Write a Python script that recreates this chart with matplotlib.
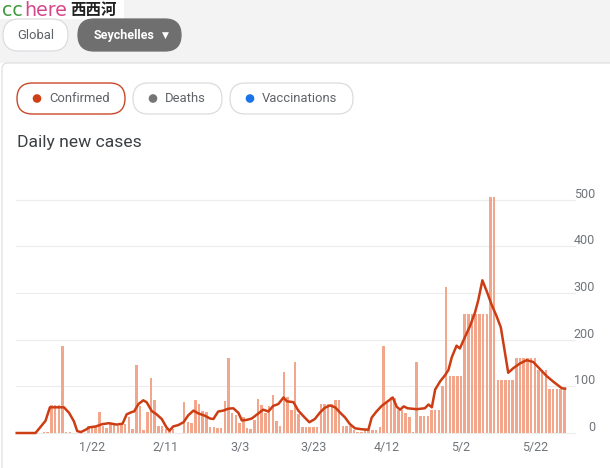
import matplotlib
matplotlib.use('Agg')
import matplotlib.pyplot as plt
from matplotlib.patches import FancyBboxPatch, Rectangle, Circle
import matplotlib.transforms as mtransforms
import numpy as np

plt.rcParams['font.family'] = ['Roboto', 'DejaVu Sans']

# ---------------- data (day 0 = Jan 1) ----------------
daily_cases = [
    0, 0, 0, 0, 0, 0, 0,
    1, 2, 2,
    59, 59, 59, 187,
    3, 3, 1, 0, 1, 0,
    14, 14, 14, 46, 14, 11,
    21, 18, 14, 18, 19, 35, 8, 146,
    57, 7, 46, 118, 71, 16, 16, 8, 4, 8, 0, 0,
    67, 23, 21, 71, 62, 48, 46, 12, 12, 11, 11, 69, 160,
    43, 39, 21, 35, 11, 9, 28, 73, 60, 43, 57, 82, 26, 14, 130, 78, 49, 152, 40,
    12, 12, 12, 12, 12, 62, 62, 62, 62, 70, 70, 14, 14, 14, 7, 3, 3, 6, 6, 6, 6, 12,
    187, 64, 78, 76, 50, 50, 42, 34, 3, 153, 36, 37, 37, 50, 50, 50, 100,
    313, 122, 122, 122, 122,
    255, 255, 255, 255, 255, 255, 255,
    505, 505,
    114, 114, 114, 114, 114,
    160, 160, 160, 160, 160, 160,
    134, 134, 134,
    94, 94, 94, 94, 95,
]

# 7-day average line as (day, value)
avg_days = [0.6, 5.7, 8.4, 9.6, 13.4, 14.8, 16.1, 17, 18, 19.3, 20.2, 22, 23.8, 25.6,
            27.7, 29.3, 30.4, 31.8, 32.4, 33.6, 34.9, 35.8, 37.2, 38.5, 39.9, 41.2,
            42, 43, 44.4, 45.8, 47.1, 48.5, 49.8, 51.6, 53, 53.9, 55.2, 56.6, 57.9,
            59.3, 60.7, 61.6, 62.9, 64.3, 66.1, 67.4, 68.8, 70.1, 71.5, 72.9, 73.8,
            75.6, 76.9, 78.3, 79.9, 81.4, 82.8, 84.1, 85.5, 86.9, 88.2, 89.6, 90.9,
            92.3, 94.1, 95.9, 96.8, 98.1, 99.5, 101, 102.5, 103.6, 104.5, 105.5,
            106.5, 109, 111.2, 112.2, 113.1, 114, 115.3, 116.7, 117.6, 118.5, 119.8,
            120.7, 122.1, 123.4, 124.8, 125.7, 126.8, 128, 129.3, 130.7, 131.8,
            133.8, 135.2, 137, 138.8, 140.6, 142.4, 144.2, 146, 148.3, 149.2]
avg_vals = [0, 0, 26, 55, 55, 43, 25, 4, 2, 7, 12, 14, 19, 21,
            18, 20, 40, 45, 46, 62, 70, 66, 47, 40, 30, 12,
            5, 14, 17, 23, 38, 48, 42, 37, 31, 30, 46, 48, 52,
            53, 43, 27, 28, 31, 42, 50, 46, 58, 62, 76, 68,
            66, 48, 36, 23, 30, 44, 54, 59, 55, 44, 33, 19,
            10, 8, 7, 33, 46, 58, 67, 76, 56, 50, 57,
            53, 51, 53, 61, 55, 93, 110, 124, 135, 162, 187,
            181, 206, 228, 258, 285, 327, 303, 275, 249, 226,
            129, 139, 149, 156, 152, 137, 122, 110, 96, 95]

xtick_days = [21, 41, 61, 81, 101, 121, 141]
xtick_labels = ['1/22', '2/11', '3/3', '3/23', '4/12', '5/2', '5/22']
ytick_vals = [0, 100, 200, 300, 400, 500]

# ---------------- figure ----------------
W, H = 610, 468
fig = plt.figure(figsize=(W / 100, H / 100), dpi=100)
fig.patch.set_facecolor('white')

ui = fig.add_axes([0, 0, 1, 1])
ui.set_xlim(0, W)
ui.set_ylim(H, 0)
ui.axis('off')

PT = 0.72  # px -> pt

# top gray strip
ui.add_patch(Rectangle((0, 0), W, 63, facecolor='#f3f3f3', edgecolor='none', zorder=0))
# card
ui.add_patch(FancyBboxPatch((2, 63), W + 20, H, boxstyle='round,pad=0,rounding_size=6',
                            facecolor='white', edgecolor='#dcdcdc', lw=0.8, zorder=1))
# logo
ui.add_patch(Rectangle((0, 0), 124, 19, facecolor='white', edgecolor='none', zorder=2))
ui.text(2, 10, 'cc', color='#3f9a3c', fontsize=19 * PT, va='center', ha='left',
        family=['DejaVu Sans'], zorder=3)
ui.text(24, 10, 'here', color='#d6478c', fontsize=19 * PT, va='center', ha='left',
        family=['DejaVu Sans'], zorder=3)
ui.text(70, 10, '西西河', color='#222222', fontsize=15.5 * PT, va='center', ha='left',
        family=['Noto Sans CJK SC', 'DejaVu Sans'], fontweight='bold', zorder=3)


def pill(x0, x1, yc, h, fc, ec, lw=0.9):
    r = h / 2
    p = FancyBboxPatch((x0, yc - r), x1 - x0, h,
                       boxstyle='round,pad=0,rounding_size=%f' % r,
                       facecolor=fc, edgecolor=ec, lw=lw, zorder=2)
    ui.add_patch(p)


# region pills
pill(3, 68, 35, 32, 'white', '#dadce0')
ui.text(35.5, 35.5, 'Global', color='#5f6368', fontsize=13 * PT, ha='center', va='center', zorder=3)
pill(78, 181, 35, 32, '#6f6f6f', '#6f6f6f')
ui.text(124, 35.5, 'Seychelles', color='white', fontsize=12.5 * PT, fontweight='bold',
        ha='center', va='center', zorder=3)
ui.text(165.5, 35, '▼', color='white', fontsize=9 * PT, ha='center', va='center',
        family=['DejaVu Sans'], zorder=3)

# metric pills
pill(17, 125, 98.5, 31, 'white', '#c9482a', lw=1.0)
ui.add_patch(Circle((37, 98.5), 3.6, color='#cf3f16', zorder=3))
ui.text(49, 99, 'Confirmed', color='#5f6368', fontsize=13 * PT, ha='left', va='center', zorder=3)
pill(133, 222, 98.5, 31, 'white', '#dadce0')
ui.add_patch(Circle((153, 98.5), 3.6, color='#757575', zorder=3))
ui.text(165, 99, 'Deaths', color='#5f6368', fontsize=13 * PT, ha='left', va='center', zorder=3)
pill(230, 353, 98.5, 31, 'white', '#dadce0')
ui.add_patch(Circle((250, 98.5), 3.6, color='#1a73e8', zorder=3))
ui.text(262, 99, 'Vaccinations', color='#5f6368', fontsize=13 * PT, ha='left', va='center', zorder=3)

ui.text(17, 142, 'Daily new cases', color='#3c4043', fontsize=17.5 * PT, ha='left', va='center', zorder=3)

# ---------------- chart ----------------
px0, px1 = 16, 576          # axes pixel extent (x)
py_top, py_bot = 170, 435   # axes pixel extent (y)
x_off, x_step = 14.5, 3.69  # pixel = x_off + x_step * day
y_zero, y_per = 433.0, (433.0 - 199.5) / 500.0

xl = ((px0 - x_off) / x_step, (px1 - x_off) / x_step)
yl = (-(py_bot - y_zero) / y_per, (y_zero - py_top) / y_per)

ax = fig.add_axes([px0 / W, (H - py_bot) / H, (px1 - px0) / W, (py_bot - py_top) / H])
ax.set_facecolor('none')
ax.set_xlim(*xl)
ax.set_ylim(*yl)
for s in ax.spines.values():
    s.set_visible(False)

days = np.arange(len(daily_cases))
ax.bar(days, daily_cases, width=0.68, color='#f2a78d', zorder=2, linewidth=0)
ax.plot(avg_days, avg_vals, color='#cc3d14', lw=1.8, zorder=3, solid_joinstyle='round',
        clip_on=False)

ax.set_yticks(ytick_vals)
ax.yaxis.grid(True, color='#ececec', lw=0.8, zorder=0)
ax.tick_params(axis='y', length=0, labelleft=False)
ax.set_xticks(xtick_days)
ax.set_xticklabels(xtick_labels, color='#70757a', fontsize=12.5 * PT)
ax.tick_params(axis='x', length=0, pad=4)

trans = mtransforms.blended_transform_factory(ax.transAxes, ax.transData)
trans = trans + mtransforms.ScaledTranslation(0, 2 / 100, fig.dpi_scale_trans)
for v in ytick_vals:
    ax.text((595 - px0) / (px1 - px0), v, str(v), transform=trans, ha='right', va='baseline',
            color='#70757a', fontsize=12.5 * PT, clip_on=False)

fig.savefig('out.png', dpi=100)
